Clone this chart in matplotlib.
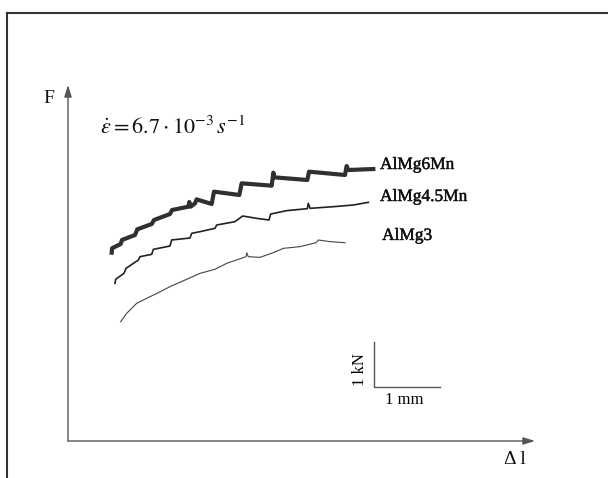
import numpy as np
import matplotlib
matplotlib.use("Agg")
import matplotlib.pyplot as plt
import matplotlib.patheffects as pe
from matplotlib.lines import Line2D

plt.rcParams["font.family"] = ["Liberation Serif", "DejaVu Serif"]
plt.rcParams["mathtext.fontset"] = "stix"

# ---- Data (elongation in mm, force in kN) ----
almg6mn_dl = [0.662, 0.667, 0.798, 0.818, 1.015, 1.050, 1.268, 1.303, 1.545, 1.576,
              1.823, 1.838, 1.859, 1.924, 1.949, 2.177, 2.212, 2.596, 2.631, 3.086,
              3.111, 3.126, 3.626, 3.652, 4.197, 4.222, 4.247, 4.626]
almg6mn_f = [4.185, 4.282, 4.378, 4.467, 4.578, 4.704, 4.822, 4.911, 5.044, 5.133,
             5.207, 5.311, 5.207, 5.281, 5.370, 5.267, 5.541, 5.467, 5.726, 5.674,
             5.963, 5.859, 5.800, 5.985, 5.911, 6.111, 6.022, 6.044]

almg45mn_dl = [0.712, 0.722, 0.848, 0.879, 1.066, 1.091, 1.268, 1.293, 1.545, 1.571,
               1.848, 1.874, 2.000, 2.227, 2.253, 2.530, 2.646, 2.859, 3.045, 3.071,
               3.313, 3.626, 3.641, 3.667, 4.020, 4.323, 4.551]
almg45mn_f = [3.504, 3.593, 3.726, 3.837, 4.022, 4.096, 4.148, 4.259, 4.333, 4.467,
              4.511, 4.615, 4.652, 4.726, 4.800, 4.874, 5.000, 4.948, 4.911, 5.044,
              5.119, 5.163, 5.281, 5.170, 5.207, 5.244, 5.304]

almg3_dl = [0.798, 0.889, 1.040, 1.192, 1.369, 1.545, 1.798, 2.000, 2.227, 2.404,
            2.697, 2.707, 2.732, 2.909, 3.111, 3.263, 3.515, 3.758, 3.793, 3.970, 4.197]
almg3_f = [2.652, 2.837, 3.059, 3.170, 3.296, 3.430, 3.593, 3.726, 3.815, 3.948,
           4.096, 4.185, 4.096, 4.081, 4.185, 4.281, 4.319, 4.407, 4.467, 4.430, 4.407]

labels = ["AlMg6Mn", "AlMg4.5Mn", "AlMg3"]
label_x = [4.727, 4.727, 4.758]
label_y = [6.133, 5.422, 4.556]

# scale bar: 1 mm x 1 kN, anchored at its corner
bar_origin = (4.636, 1.2)
bar_mm = 1.0
bar_kn = 1.0

# ---- Plot ----
fig = plt.figure(figsize=(6.08, 4.78), dpi=100)
ax = fig.add_axes([68 / 608, 37 / 478, 467 / 608, 356 / 478])
ax.set_xlim(0, 467 / 66)
ax.set_ylim(0, 356 / 45)
ax.axis("off")

ax.plot(almg6mn_dl, almg6mn_f, color="#303030", lw=3.0, solid_joinstyle="round")
ax.plot(almg45mn_dl, almg45mn_f, color="#222222", lw=1.2)
ax.plot(almg3_dl, almg3_f, color="#444444", lw=0.8)

bold = [pe.withStroke(linewidth=0.3, foreground="#111111")]
for name, lx, ly in zip(labels, label_x, label_y):
    ax.text(lx, ly, name, fontsize=12.5, color="#111111", va="center", ha="left",
            path_effects=bold)

# axis arrows
arrow = dict(arrowstyle="-|>,head_length=0.7,head_width=0.22", color="#555555",
             lw=1.0, shrinkA=0, shrinkB=0, mutation_scale=10)
ax.annotate("", xy=(1, 0), xytext=(0, 0), xycoords="axes fraction", arrowprops=arrow)
ax.annotate("", xy=(0, 1), xytext=(0, 0), xycoords="axes fraction", arrowprops=arrow)

ax.text(-0.288, 7.622, "F", fontsize=14, ha="center", va="center", color="#111111")
ax.text(6.773, -0.4, "Δ l", fontsize=14, ha="center", va="center", color="#111111")
ax.text(0.485, 6.956, r"$\dot{\varepsilon} = 6.7\cdot10^{-3}\,s^{-1}$",
        fontsize=16, ha="left", va="center", color="#111111")

# scale bar
bx, by = bar_origin
ax.plot([bx, bx, bx + bar_mm], [by + bar_kn, by, by], color="#555555", lw=1.0)
ax.text(bx + bar_mm / 2 - 0.04, by - 0.29, "1 mm", fontsize=12, ha="center", va="center")
ax.text(bx - 0.21, by + 0.38, "1 kN", fontsize=12, ha="center", va="center", rotation=90)

# page frame (top and left edges)
fig.add_artist(Line2D([7 / 608, 1], [1 - 13 / 478] * 2, transform=fig.transFigure,
                      color="#333333", lw=1.5))
fig.add_artist(Line2D([7 / 608] * 2, [0, 1 - 13 / 478], transform=fig.transFigure,
                      color="#333333", lw=1.5))

fig.savefig("out.png", dpi=100)
